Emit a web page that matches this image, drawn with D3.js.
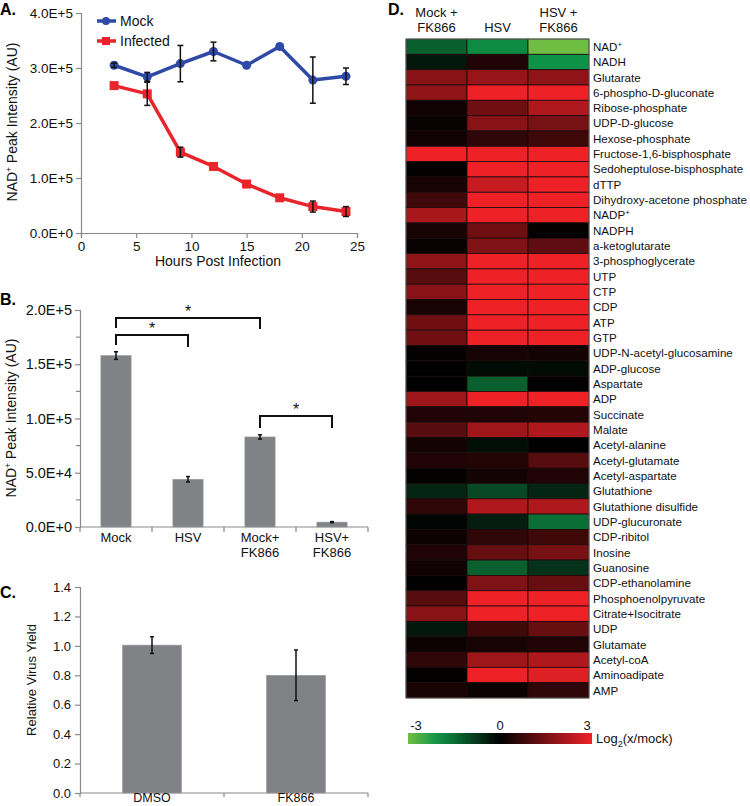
<!DOCTYPE html>
<html><head><meta charset="utf-8">
<script src="https://cdn.jsdelivr.net/npm/d3@7"></script>
<style>
body{margin:0;background:#fff;}
svg{display:block;font-family:"Liberation Sans",Arial,sans-serif;}
</style></head>
<body>
<svg id="fig" width="750" height="806"></svg>
<script>
// ---------- Panel A data ----------
const hours = [3, 6, 9, 12, 15, 18, 21, 24];
const mockValues = [305000, 284000, 308000, 330000, 305000, 339000, 278000, 285000];
const mockErrors = [4000, 8000, 33000, 17000, 0, 0, 42000, 15000];
const infectedValues = [268000, 253000, 147000, 121000, 89000, 64000, 48000, 39000];
const infectedErrors = [0, 21000, 9000, 0, 0, 0, 10000, 9000];
const aYTicks = [0, 100000, 200000, 300000, 400000];
const aXTicks = [0, 5, 10, 15, 20, 25];

// ---------- Panel B data ----------
const bCategories = [["Mock"], ["HSV"], ["Mock+", "FK866"], ["HSV+", "FK866"]];
const bValues = [158000, 44000, 83000, 4500];
const bErrors = [3500, 2500, 2000, 500];
const bYTicks = [0, 50000, 100000, 150000, 200000];
const bMinorTicks = [25000, 75000, 125000, 175000];

// ---------- Panel C data ----------
const cCategories = ["DMSO", "FK866"];
const cValues = [1.005, 0.80];
const cErrors = [0.057, 0.172];
const cYTicks = [0, 0.2, 0.4, 0.6, 0.8, 1.0, 1.2, 1.4];

// ---------- Panel D data ----------
const groups = ["Mock + FK866", "HSV", "HSV + FK866"];
const metabolites = ["NAD+", "NADH", "Glutarate", "6-phospho-D-gluconate", "Ribose-phosphate",
  "UDP-D-glucose", "Hexose-phosphate", "Fructose-1,6-bisphosphate", "Sedoheptulose-bisphosphate",
  "dTTP", "Dihydroxy-acetone phosphate", "NADP+", "NADPH", "a-ketoglutarate", "3-phosphoglycerate",
  "UTP", "CTP", "CDP", "ATP", "GTP", "UDP-N-acetyl-glucosamine", "ADP-glucose", "Aspartate", "ADP",
  "Succinate", "Malate", "Acetyl-alanine", "Acetyl-glutamate", "Acetyl-aspartate", "Glutathione",
  "Glutathione disulfide", "UDP-glucuronate", "CDP-ribitol", "Inosine", "Guanosine",
  "CDP-ethanolamine", "Phosphoenolpyruvate", "Citrate+Isocitrate", "UDP", "Glutamate",
  "Acetyl-coA", "Aminoadipate", "AMP"];
const mockFK866 = [-1.3, -0.3, 1.7, 1.8, 0.2, 0.1, 0.2, 3, 0.05, 0.3, 0.8, 2.1, 0.3, 0.1, 1.8,
  1.1, 1.7, 0.3, 1.4, 1.4, 0.05, 0.0, 0.0, 2.0, 0.4, 1.1, 0.25, 0.4, 0.05, -0.5, 0.6, -0.05, 0.15,
  0.4, 0.2, 0.0, 1.1, 1.7, -0.3, 0.15, 0.6, 0.05, 0.3];
const hsv = [-1.9, 0.4, 1.9, 3, 1.4, 1.7, 0.6, 3, 3, 2.5, 3, 3, 1.4, 1.6, 3, 3, 3, 3, 3, 3, 0.3,
  -0.15, -1.3, 3, 0.4, 2.0, -0.2, 0.45, 0.25, -1.0, 2.2, -0.4, 0.6, 1.3, -1.3, 1.6, 3, 3, 0.8, 0.3,
  2.0, 3, 0.15];
const hsvFK866 = [-3, -2, 1.8, 3, 2.2, 1.5, 0.8, 3, 3, 3, 3, 3, 0.05, 1.2, 3, 3, 3, 3, 3, 3, 0.25,
  -0.15, 0.03, 3, 0.45, 2.2, 0.0, 1.1, 0.4, -0.5, 2.2, -1.5, 0.8, 1.5, -0.7, 1.3, 3, 3, 1.3, 0.4,
  2.2, 2.8, 0.6];
const colorTicks = [-3, 0, 3];

const svg = d3.select("#fig");
const gray = "#8a8a8a";
const barFill = "#808285";

function sci(v) {
  if (v === 0) return "0.0E+0";
  const e = Math.floor(Math.log10(v));
  return (v / Math.pow(10, e)).toFixed(1) + "E+" + e;
}
function styleAxis(g, fs) {
  g.selectAll(".domain").attr("stroke", gray).attr("stroke-width", 1.2);
  g.selectAll(".tick line").attr("stroke", gray).attr("stroke-width", 1.2);
  g.selectAll(".tick text").attr("fill", "#111").style("font-size", fs + "px")
    .style("font-family", '"Liberation Sans",Arial,sans-serif');
}
function nadLabel(sel, x, y, fs) {
  const t = sel.append("text").attr("transform", `translate(${x},${y}) rotate(-90)`)
    .attr("text-anchor", "middle").style("font-size", fs + "px").attr("fill", "#111");
  t.append("tspan").text("NAD");
  t.append("tspan").text("+").attr("dy", -5).style("font-size", (fs * 0.6) + "px");
  t.append("tspan").text(" Peak Intensity (AU)").attr("dy", 5);
}

// ================= Panel A =================
{
  const x = d3.scaleLinear().domain([0, 25]).range([81, 357]);
  const y = d3.scaleLinear().domain([0, 400000]).range([233, 13]);
  const g = svg.append("g");
  const ya = g.append("g").attr("transform", "translate(81,0)")
    .call(d3.axisLeft(y).tickValues(aYTicks).tickFormat(sci).tickSizeOuter(0).tickSize(5).tickPadding(3));
  styleAxis(ya, 13.5);
  const xa = g.append("g").attr("transform", "translate(0,233)")
    .call(d3.axisBottom(x).tickValues(aXTicks).tickSizeOuter(0).tickSize(5).tickPadding(3));
  styleAxis(xa, 13.5);
  g.append("text").attr("x", 218).attr("y", 266).attr("text-anchor", "middle")
    .style("font-size", "14px").attr("fill", "#111").text("Hours Post Infection");
  nadLabel(g, 17, 122, 14);
  svg.append("text").attr("x", 0).attr("y", 15).style("font-size", "16px").style("font-weight", "bold").text("A.");

  const series = [
    {vals: infectedValues, errs: infectedErrors, color: "#e8252a", shape: "square"},
    {vals: mockValues, errs: mockErrors, color: "#2e4aa6", shape: "circle"}
  ];
  const line = d3.line().x((d, i) => x(hours[i])).y(d => y(d));
  series.forEach(s => {
    g.append("path").datum(s.vals).attr("d", line).attr("fill", "none")
      .attr("stroke", s.color).attr("stroke-width", 3.5).attr("stroke-linejoin", "round");
    s.vals.forEach((v, i) => {
      if (s.shape === "circle") {
        g.append("circle").attr("cx", x(hours[i])).attr("cy", y(v)).attr("r", 4.5).attr("fill", s.color);
      } else {
        g.append("rect").attr("x", x(hours[i]) - 4.5).attr("y", y(v) - 4.5).attr("width", 9).attr("height", 9).attr("fill", s.color);
      }
    });
  });
  series.forEach(s => {
    s.vals.forEach((v, i) => {
      const e = s.errs[i];
      if (!e) return;
      const cx = x(hours[i]);
      const eg = g.append("g").attr("stroke", "#111").attr("stroke-width", 1.5);
      eg.append("line").attr("x1", cx).attr("x2", cx).attr("y1", y(v - e)).attr("y2", y(v + e));
      eg.append("line").attr("x1", cx - 3).attr("x2", cx + 3).attr("y1", y(v - e)).attr("y2", y(v - e));
      eg.append("line").attr("x1", cx - 3).attr("x2", cx + 3).attr("y1", y(v + e)).attr("y2", y(v + e));
    });
  });
  // legend
  const leg = [{name: "Mock", color: "#2e4aa6", shape: "circle", y: 21}, {name: "Infected", color: "#e8252a", shape: "square", y: 41}];
  leg.forEach(l => {
    g.append("line").attr("x1", 97).attr("x2", 116).attr("y1", l.y).attr("y2", l.y).attr("stroke", l.color).attr("stroke-width", 3.5);
    if (l.shape === "circle") g.append("circle").attr("cx", 106).attr("cy", l.y).attr("r", 4).attr("fill", l.color);
    else g.append("rect").attr("x", 102).attr("y", l.y - 4).attr("width", 8).attr("height", 8).attr("fill", l.color);
    g.append("text").attr("x", 120).attr("y", l.y + 5).style("font-size", "14px").attr("fill", "#111").text(l.name);
  });
}

// ================= Panel B =================
{
  const x = d3.scaleBand().domain(d3.range(bCategories.length)).range([80, 368]).paddingInner(0.58).paddingOuter(0.29);
  const y = d3.scaleLinear().domain([0, 200000]).range([527, 310]);
  const g = svg.append("g");
  const ya = g.append("g").attr("transform", "translate(80,0)")
    .call(d3.axisLeft(y).tickValues(bYTicks).tickFormat(sci).tickSizeOuter(0).tickSize(5).tickPadding(3));
  styleAxis(ya, 14.5);
  bMinorTicks.forEach(t => g.append("line").attr("x1", 76).attr("x2", 80).attr("y1", y(t)).attr("y2", y(t)).attr("stroke", gray).attr("stroke-width", 1.2));
  g.append("line").attr("x1", 80).attr("x2", 368).attr("y1", 527).attr("y2", 527).attr("stroke", gray).attr("stroke-width", 1.2);
  const step = x.step();
  d3.range(bCategories.length + 1).forEach(i => {
    const bx = 80 + i * step;
    g.append("line").attr("x1", bx).attr("x2", bx).attr("y1", 527).attr("y2", 532).attr("stroke", gray).attr("stroke-width", 1.2);
  });
  bValues.forEach((v, i) => {
    g.append("rect").attr("x", x(i)).attr("y", y(v)).attr("width", x.bandwidth()).attr("height", y(0) - y(v))
      .attr("fill", barFill).attr("stroke", "#9a9c9e").attr("stroke-width", 0.6);
    const cx = x(i) + x.bandwidth() / 2, e = bErrors[i];
    const eg = g.append("g").attr("stroke", "#111").attr("stroke-width", 1.5);
    eg.append("line").attr("x1", cx).attr("x2", cx).attr("y1", y(v - e)).attr("y2", y(v + e));
    eg.append("line").attr("x1", cx - 2).attr("x2", cx + 2).attr("y1", y(v - e)).attr("y2", y(v - e));
    eg.append("line").attr("x1", cx - 2).attr("x2", cx + 2).attr("y1", y(v + e)).attr("y2", y(v + e));
    bCategories[i].forEach((ln, j) => {
      g.append("text").attr("x", cx).attr("y", 542 + j * 15).attr("text-anchor", "middle")
        .style("font-size", "13px").attr("fill", "#111").text(ln);
    });
  });
  // significance brackets
  const brackets = [
    {a: 0, b: 2, top: 318, endL: 328, endR: 329},
    {a: 0, b: 1, top: 335, endL: 345, endR: 347},
    {a: 2, b: 3, top: 416, endL: 428, endR: 428}
  ];
  brackets.forEach(br => {
    const x1 = x(br.a) + x.bandwidth() / 2, x2 = x(br.b) + x.bandwidth() / 2;
    g.append("path").attr("d", `M${x1},${br.endL}V${br.top}H${x2}V${br.endR}`)
      .attr("fill", "none").attr("stroke", "#111").attr("stroke-width", 2);
    g.append("text").attr("x", (x1 + x2) / 2).attr("y", br.top - 1).attr("text-anchor", "middle")
      .style("font-size", "16px").attr("fill", "#111").text("*");
  });
  nadLabel(g, 16, 418, 14);
  svg.append("text").attr("x", 0).attr("y", 305).style("font-size", "16px").style("font-weight", "bold").text("B.");
}

// ================= Panel C =================
{
  const x = d3.scaleBand().domain(cCategories).range([80, 368]).paddingInner(0.59).paddingOuter(0.295);
  const y = d3.scaleLinear().domain([0, 1.4]).range([793, 587]);
  const g = svg.append("g");
  const ya = g.append("g").attr("transform", "translate(80,0)")
    .call(d3.axisLeft(y).tickValues(cYTicks).tickFormat(d3.format(".1f")).tickSizeOuter(0).tickSize(5).tickPadding(4));
  styleAxis(ya, 13);
  g.append("line").attr("x1", 80).attr("x2", 368).attr("y1", 793).attr("y2", 793).attr("stroke", gray).attr("stroke-width", 1.2);
  const step = x.step();
  d3.range(cCategories.length + 1).forEach(i => {
    const bx = 80 + i * step;
    g.append("line").attr("x1", bx).attr("x2", bx).attr("y1", 793).attr("y2", 797).attr("stroke", gray).attr("stroke-width", 1.2);
  });
  cValues.forEach((v, i) => {
    const c = cCategories[i];
    g.append("rect").attr("x", x(c)).attr("y", y(v)).attr("width", x.bandwidth()).attr("height", y(0) - y(v))
      .attr("fill", barFill).attr("stroke", "#9a9c9e").attr("stroke-width", 0.6);
    const cx = x(c) + x.bandwidth() / 2, e = cErrors[i];
    const eg = g.append("g").attr("stroke", "#111").attr("stroke-width", 1.5);
    eg.append("line").attr("x1", cx).attr("x2", cx).attr("y1", y(v - e)).attr("y2", y(v + e));
    eg.append("line").attr("x1", cx - 2).attr("x2", cx + 2).attr("y1", y(v - e)).attr("y2", y(v - e));
    eg.append("line").attr("x1", cx - 2).attr("x2", cx + 2).attr("y1", y(v + e)).attr("y2", y(v + e));
    g.append("text").attr("x", cx).attr("y", 802).attr("dominant-baseline", "auto").attr("text-anchor", "middle")
      .style("font-size", "12.5px").attr("fill", "#111").text(c);
  });
  g.append("text").attr("transform", "translate(36,680) rotate(-90)").attr("text-anchor", "middle")
    .style("font-size", "13px").attr("fill", "#111").text("Relative Virus Yield");
  svg.append("text").attr("x", 0).attr("y", 598).style("font-size", "16px").style("font-weight", "bold").text("C.");
}

// ================= Panel D =================
{
  const color = d3.scaleLinear().domain([-3, -2, 0, 3])
    .range(["#6fbe44", "#0e9247", "#000000", "#ee2127"]).clamp(true);
  const x = d3.scaleBand().domain(groups).range([406, 589]);
  const y = d3.scaleBand().domain(metabolites).range([39, 698]);
  const g = svg.append("g");
  const cols = [mockFK866, hsv, hsvFK866];
  cols.forEach((vals, ci) => {
    vals.forEach((v, ri) => {
      g.append("rect").attr("x", x(groups[ci])).attr("y", y(metabolites[ri]))
        .attr("width", x.bandwidth()).attr("height", y.bandwidth())
        .attr("fill", color(v)).attr("stroke", "#1a0a0a").attr("stroke-width", 0.8);
    });
  });
  g.append("rect").attr("x", 406).attr("y", 39).attr("width", 183).attr("height", 659)
    .attr("fill", "none").attr("stroke", "#777").attr("stroke-width", 0.8);
  metabolites.forEach(m => {
    const t = g.append("text").attr("x", 593).attr("y", y(m) + y.bandwidth() / 2 + 4.2)
      .style("font-size", "11.6px").attr("fill", "#111");
    if (m.endsWith("+") && m.startsWith("NAD")) {
      t.append("tspan").text(m.slice(0, -1));
      t.append("tspan").text("+").attr("dy", -4).style("font-size", "8px");
    } else t.text(m);
  });
  // headers
  const headers = [["Mock +", "FK866"], ["HSV"], ["HSV +", "FK866"]];
  headers.forEach((h, i) => {
    const cx = x(groups[i]) + x.bandwidth() / 2;
    h.forEach((ln, j) => {
      g.append("text").attr("x", cx).attr("y", 32 - (h.length - 1 - j) * 15).attr("text-anchor", "middle")
        .style("font-size", "13px").attr("fill", "#111").text(ln);
    });
  });
  svg.append("text").attr("x", 388).attr("y", 15).style("font-size", "16px").style("font-weight", "bold").text("D.");
  // color bar
  const cb = d3.scaleLinear().domain([-3, 3]).range([408, 592]);
  const grad = svg.append("defs").append("linearGradient").attr("id", "cbar");
  d3.range(0, 1.0001, 0.05).forEach(f => {
    grad.append("stop").attr("offset", f).attr("stop-color", color(-3 + 6 * f));
  });
  g.append("rect").attr("x", cb(-3)).attr("y", 733).attr("width", cb(3) - cb(-3)).attr("height", 11).attr("fill", "url(#cbar)");
  colorTicks.forEach(t => {
    g.append("text").attr("x", cb(t) + (t === -3 ? 8 : t === 3 ? -5 : 0)).attr("y", 730).attr("text-anchor", "middle")
      .style("font-size", "13px").attr("fill", "#111").text(t);
  });
  const lt = g.append("text").attr("x", 596).attr("y", 743).style("font-size", "13px").attr("fill", "#111");
  lt.append("tspan").text("Log");
  lt.append("tspan").text("2").attr("dy", 4).style("font-size", "9px");
  lt.append("tspan").text("(x/mock)").attr("dy", -4);
}
</script>
</body></html>
